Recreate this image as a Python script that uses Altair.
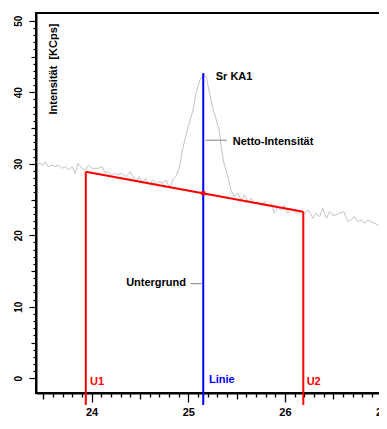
import altair as alt
import pandas as pd

# ---- spectrum (2Theta vs intensity, KCps) ----
theta = [23.43, 23.50, 23.52, 23.55, 23.59, 23.62, 23.66, 23.69, 23.73, 23.76,
         23.80, 23.83, 23.86, 23.90, 23.93, 23.97, 24.00, 24.04, 24.07, 24.11,
         24.14, 24.17, 24.21, 24.24, 24.28, 24.31, 24.36, 24.40, 24.43, 24.46,
         24.49, 24.53, 24.56, 24.60, 24.63, 24.67, 24.70, 24.74, 24.77, 24.81,
         24.84, 24.87, 24.91, 24.94, 24.99, 25.05, 25.08, 25.12, 25.14, 25.16,
         25.19, 25.22, 25.25, 25.29, 25.32, 25.34, 25.37, 25.41, 25.44, 25.48,
         25.51, 25.55, 25.58, 25.62, 25.65, 25.68, 25.72, 25.75, 25.79, 25.82,
         25.86, 25.89, 25.93, 25.96, 25.99, 26.03, 26.06, 26.10, 26.13, 26.17,
         26.20, 26.24, 26.27, 26.29, 26.32, 26.36, 26.39, 26.43, 26.46, 26.49,
         26.53, 26.56, 26.61, 26.65, 26.68, 26.72, 26.75, 26.79, 26.82, 26.86,
         26.89, 26.93, 26.96, 27.00, 27.03, 27.06]
intensity = [30.25, 29.83, 30.29, 29.59, 29.83, 29.59, 29.83, 29.37, 29.59, 29.13,
             29.59, 28.67, 30.07, 29.37, 29.13, 29.83, 29.37, 29.37, 29.37, 29.59,
             28.67, 28.90, 28.43, 28.67, 28.43, 28.67, 28.20, 28.90, 28.20, 27.50,
             28.20, 27.27, 27.97, 27.03, 27.73, 27.27, 27.50, 27.27, 27.73, 26.57,
             27.73, 28.20, 29.59, 31.93, 34.73, 37.52, 39.86, 41.72, 42.18, 42.66,
             41.96, 39.86, 37.99, 36.13, 34.73, 32.39, 30.07, 28.20, 26.34, 25.40,
             25.87, 24.94, 25.64, 24.70, 25.17, 24.48, 24.70, 24.24, 24.70, 24.00,
             24.48, 23.08, 24.00, 23.54, 24.24, 23.08, 23.78, 23.30, 23.08, 23.30,
             23.08, 23.54, 22.84, 22.38, 23.08, 22.60, 23.78, 22.38, 23.30, 22.84,
             22.84, 23.08, 23.30, 21.90, 22.14, 22.60, 21.90, 22.14, 21.68, 22.14,
             21.90, 21.68, 21.44, 21.20, 21.30, 21.10]

# ---- markers: background points U1/U2 and the line position ----
marker_names = ["U1", "Linie", "U2"]
marker_pos = [23.94, 25.155, 26.19]
marker_top = [28.9, 42.66, 23.3]
marker_bottom = [-3.73, -3.73, -3.73]
marker_colors = ["#ff0000", "#0000ff", "#ff0000"]

# background (Untergrund) line between U1 and U2
bg_theta = [23.94, 26.19]
bg_int = [28.9, 23.3]

# background value at the line position
net_theta = [25.155]
net_int = [25.88]

# leader lines for the annotations
leader_x1 = [25.18, 25.025]
leader_x2 = [25.40, 25.14]
leader_y = [33.3, 13.23]

# annotations
ann_left_text = ["Sr KA1", "Netto-Intensität", "U1", "Linie", "U2"]
ann_left_x = [25.284, 25.46, 23.984, 25.215, 26.225]
ann_left_y = [42.07, 33.05, -0.52, -0.2, -0.46]
ann_left_color = ["#000000", "#000000", "#ff0000", "#0000ff", "#ff0000"]
ann_right_text = ["Untergrund"]
ann_right_x = [24.977]
ann_right_y = [13.29]

x_ticks = [round(23.5 + 0.1 * i, 1) for i in range(40)]
y_ticks = list(range(0, 51))

X_DOMAIN = [23.425, 27.48]
Y_DOMAIN = [-2.06, 51.09]

FONT = "Liberation Sans"

is_int = "abs(datum.value - round(datum.value)) < 0.001"
is_half = "abs(datum.value * 2 - round(datum.value * 2)) < 0.001"

x_axis = alt.Axis(
    values=x_ticks, tickCount=500,
    labelExpr=f"{is_int} ? '' + round(datum.value) : ''",
    labelOverlap=False,
    labelFont=FONT, labelFontSize=11, labelFontWeight="bold", labelColor="#000000",
    labelPadding=4,
    tickSize={"condition": [{"test": is_int, "value": 9}, {"test": is_half, "value": 6}], "value": 4},
    tickColor="#000000", tickWidth=1.3,
    domainColor="#000000", domainWidth=2,
    grid=False,
    title="2Theta", titleFont=FONT, titleFontSize=11, titleFontWeight="bold",
    titleColor="#000000", titleX=196, titleY=30, titleAlign="center", titleBaseline="top",
)
y_axis = alt.Axis(
    values=y_ticks, tickCount=500,
    labelExpr="datum.value % 10 === 0 ? '' + datum.value : ''",
    labelOverlap=False,
    labelFont=FONT, labelFontSize=10, labelFontWeight="bold", labelColor="#000000",
    labelAngle=270, labelAlign="center", labelBaseline="alphabetic", labelPadding=8,
    tickSize={"condition": [{"test": "datum.value % 10 === 0", "value": 7},
                            {"test": "datum.value % 5 === 0", "value": 5}], "value": 3},
    tickColor="#000000", tickWidth=1.2,
    domainColor="#000000", domainWidth=2,
    grid=False,
    title="Intensität\u00a0 [KCps]", titleFont=FONT, titleFontSize=11, titleFontWeight="bold",
    titleColor="#000000", titleAngle=270, titleX=20, titleY=10,
    titleAlign="right", titleBaseline="alphabetic",
)

xs = alt.Scale(domain=X_DOMAIN, nice=False, zero=False)
ys = alt.Scale(domain=Y_DOMAIN, nice=False, zero=False)

spec_df = pd.DataFrame({"theta": theta, "intensity": intensity})
spectrum = alt.Chart(spec_df).mark_line(color="#c4c4c4", strokeWidth=1).encode(
    x=alt.X("theta:Q", scale=xs, axis=x_axis),
    y=alt.Y("intensity:Q", scale=ys, axis=y_axis),
)

bg_df = pd.DataFrame({"theta": bg_theta, "intensity": bg_int})
bg_line = alt.Chart(bg_df).mark_line(color="#ff0000", strokeWidth=2).encode(
    x=alt.X("theta:Q", scale=xs), y=alt.Y("intensity:Q", scale=ys)
)

mk_df = pd.DataFrame({"name": marker_names, "pos": marker_pos, "top": marker_top,
                      "bottom": marker_bottom, "color": marker_colors})
markers = alt.Chart(mk_df).mark_rule(strokeWidth=2).encode(
    x=alt.X("pos:Q", scale=xs),
    y=alt.Y("top:Q", scale=ys),
    y2="bottom:Q",
    color=alt.Color("color:N", scale=None),
)

net_df = pd.DataFrame({"theta": net_theta, "intensity": net_int})
net_pt = alt.Chart(net_df).mark_square(color="#ff0000", size=16, opacity=1).encode(
    x=alt.X("theta:Q", scale=xs), y=alt.Y("intensity:Q", scale=ys)
)

ld_df = pd.DataFrame({"x1": leader_x1, "x2": leader_x2, "y": leader_y})
leaders = alt.Chart(ld_df).mark_rule(color="#808080", strokeWidth=1).encode(
    x=alt.X("x1:Q", scale=xs), x2="x2:Q", y=alt.Y("y:Q", scale=ys)
)

al_df = pd.DataFrame({"text": ann_left_text, "x": ann_left_x, "y": ann_left_y, "color": ann_left_color})
texts_left = alt.Chart(al_df).mark_text(
    align="left", baseline="middle", font=FONT, fontSize=11, fontWeight="bold"
).encode(
    x=alt.X("x:Q", scale=xs), y=alt.Y("y:Q", scale=ys), text="text:N",
    color=alt.Color("color:N", scale=None),
)

ar_df = pd.DataFrame({"text": ann_right_text, "x": ann_right_x, "y": ann_right_y})
texts_right = alt.Chart(ar_df).mark_text(
    align="right", baseline="middle", font=FONT, fontSize=11, fontWeight="bold", color="#000000"
).encode(
    x=alt.X("x:Q", scale=xs), y=alt.Y("y:Q", scale=ys), text="text:N",
)

chart = alt.layer(
    spectrum, bg_line, leaders, markers, net_pt, texts_left, texts_right
).properties(
    width=392, height=380,
    padding={"left": 28, "top": 5, "right": -49, "bottom": 28},
    autosize=alt.AutoSizeParams(type="none"),
    background="#ffffff",
).configure_view(stroke="#000000", strokeWidth=2)

chart.save("out.html", embed_options={"renderer": "svg", "actions": False})
